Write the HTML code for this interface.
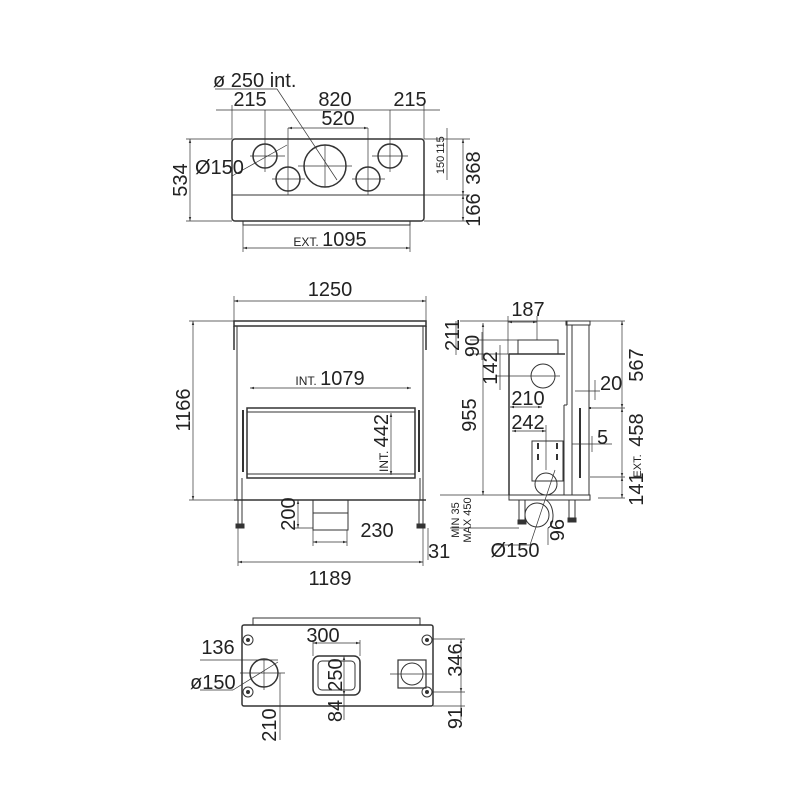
<!DOCTYPE html>
<html><head><meta charset="utf-8"><style>
html,body{margin:0;padding:0;background:#fff}
svg{display:block}
text{font-family:"Liberation Sans Narrow","Liberation Sans",sans-serif;fill:#222}
</style></head><body>
<svg width="800" height="800" viewBox="0 0 800 800" xmlns="http://www.w3.org/2000/svg">
<defs>
<marker id="a" viewBox="0 0 10 10" refX="10" refY="5" markerWidth="6" markerHeight="6" orient="auto-start-reverse"><path d="M0,2 L10,5 L0,8 z" fill="#333"/></marker>
</defs>
<g fill="none" stroke="#333" stroke-width="1">
<rect x="232" y="139" width="192" height="82" rx="3" stroke-width="1.5"/>
<line x1="232" y1="195" x2="424" y2="195"/>
<rect x="243" y="221" width="167" height="4"/>
<circle cx="265" cy="156" r="12" stroke-width="1.5"/>
<circle cx="288" cy="179" r="12" stroke-width="1.5"/>
<circle cx="325" cy="166" r="21" stroke-width="1.5"/>
<circle cx="368" cy="179" r="12" stroke-width="1.5"/>
<circle cx="390" cy="156" r="12" stroke-width="1.5"/>
<g stroke-width="0.7">
<line x1="250" y1="156" x2="285" y2="156"/><line x1="265" y1="110" x2="265" y2="172"/>
<line x1="272" y1="179" x2="305" y2="179"/><line x1="288" y1="128" x2="288" y2="195"/>
<line x1="298" y1="166" x2="352" y2="166"/><line x1="325" y1="145" x2="325" y2="187"/>
<line x1="352" y1="179" x2="385" y2="179"/><line x1="368" y1="128" x2="368" y2="195"/>
<line x1="372" y1="156" x2="408" y2="156"/><line x1="390" y1="110" x2="390" y2="172"/>
<line x1="215" y1="89" x2="277" y2="89"/><line x1="277" y1="89" x2="337" y2="180"/>
<line x1="232" y1="176" x2="287" y2="145"/>
<line x1="216" y1="110" x2="440" y2="110"/>
<line x1="232" y1="105" x2="232" y2="139"/><line x1="424" y1="105" x2="424" y2="139"/>
<line x1="288" y1="128" x2="368" y2="128" marker-start="url(#a)" marker-end="url(#a)"/>
<line x1="190" y1="139" x2="190" y2="221" marker-start="url(#a)" marker-end="url(#a)"/>
<line x1="186" y1="139" x2="232" y2="139"/><line x1="186" y1="221" x2="232" y2="221"/>
<line x1="424" y1="139" x2="470" y2="139"/><line x1="424" y1="195" x2="470" y2="195"/><line x1="424" y1="221" x2="470" y2="221"/>
<line x1="463" y1="139" x2="463" y2="195" marker-start="url(#a)" marker-end="url(#a)"/>
<line x1="463" y1="195" x2="463" y2="221" marker-start="url(#a)" marker-end="url(#a)"/>
<line x1="447" y1="128" x2="447" y2="180"/>
<line x1="243" y1="225" x2="243" y2="252"/><line x1="410" y1="225" x2="410" y2="252"/>
<line x1="243" y1="248" x2="410" y2="248" marker-start="url(#a)" marker-end="url(#a)"/>
</g>
<rect x="234" y="321" width="192" height="5" stroke-width="1.5"/>
<line x1="234" y1="326" x2="234" y2="350" stroke-width="1.5"/><line x1="426" y1="326" x2="426" y2="350" stroke-width="1.5"/>
<line x1="237" y1="326" x2="237" y2="500"/><line x1="423" y1="326" x2="423" y2="500"/>
<line x1="234" y1="500" x2="426" y2="500" stroke-width="1.5"/>
<rect x="247" y="408" width="168" height="70" stroke-width="1.5"/>
<line x1="247" y1="412" x2="415" y2="412"/><line x1="247" y1="474" x2="415" y2="474"/>
<line x1="243" y1="410" x2="243" y2="472" stroke-width="2"/><line x1="419" y1="410" x2="419" y2="472" stroke-width="2"/>
<line x1="242" y1="478" x2="242" y2="500"/><line x1="420" y1="478" x2="420" y2="500"/>
<rect x="238" y="500" width="4" height="26"/><rect x="419" y="500" width="4" height="26"/>
<rect x="236" y="524" width="8" height="4" fill="#333"/><rect x="417" y="524" width="8" height="4" fill="#333"/>
<rect x="313" y="500" width="35" height="30"/><line x1="313" y1="513" x2="348" y2="513"/>
<g stroke-width="0.7">
<line x1="234" y1="301" x2="426" y2="301" marker-start="url(#a)" marker-end="url(#a)"/>
<line x1="234" y1="296" x2="234" y2="321"/><line x1="426" y1="296" x2="426" y2="321"/>
<line x1="193" y1="321" x2="193" y2="500" marker-start="url(#a)" marker-end="url(#a)"/>
<line x1="189" y1="321" x2="234" y2="321"/><line x1="189" y1="500" x2="234" y2="500"/>
<line x1="250" y1="388" x2="411" y2="388" marker-start="url(#a)" marker-end="url(#a)"/>
<line x1="391" y1="413" x2="391" y2="475" marker-start="url(#a)" marker-end="url(#a)"/>
<line x1="298" y1="500" x2="298" y2="528" marker-start="url(#a)" marker-end="url(#a)"/>
<line x1="294" y1="528" x2="313" y2="528"/>
<line x1="313" y1="542" x2="347" y2="542" marker-start="url(#a)" marker-end="url(#a)"/>
<line x1="313" y1="530" x2="313" y2="546"/><line x1="347" y1="530" x2="347" y2="546"/>
<line x1="238" y1="528" x2="238" y2="566"/><line x1="423" y1="528" x2="423" y2="566"/>
<line x1="238" y1="562" x2="423" y2="562" marker-start="url(#a)" marker-end="url(#a)"/>
<line x1="428" y1="528" x2="428" y2="560"/>
</g>
<rect x="518" y="340" width="40" height="14"/>
<line x1="509" y1="354" x2="565" y2="354" stroke-width="1.5"/>
<line x1="509" y1="354" x2="509" y2="495" stroke-width="1.5"/>
<line x1="567" y1="321" x2="567" y2="405"/><line x1="567" y1="405" x2="564" y2="405"/><line x1="564" y1="405" x2="564" y2="495"/>
<rect x="566" y="321" width="24" height="4"/>
<line x1="572" y1="325" x2="572" y2="495"/><line x1="589" y1="325" x2="589" y2="495"/>
<line x1="580" y1="408" x2="580" y2="478" stroke-width="2"/><line x1="589" y1="408" x2="591" y2="408" stroke-width="2"/>
<rect x="509" y="495" width="81" height="5"/>
<circle cx="543" cy="376" r="12"/>
<rect x="532" y="441" width="31" height="40"/>
<g stroke-width="2"><line x1="538" y1="443" x2="538" y2="449"/><line x1="538" y1="454" x2="538" y2="460"/><line x1="557" y1="443" x2="557" y2="449"/><line x1="557" y1="454" x2="557" y2="460"/></g>
<circle cx="546" cy="484" r="11"/>
<circle cx="537" cy="515" r="12"/>
<path d="M546,500 C555,505 555,525 548,528"/>
<rect x="519" y="500" width="6" height="22"/><rect x="569" y="500" width="6" height="20"/>
<rect x="518" y="520" width="8" height="4" fill="#333"/><rect x="568" y="518" width="8" height="4" fill="#333"/>
<g stroke-width="0.7">
<line x1="508" y1="322" x2="537" y2="322" marker-start="url(#a)" marker-end="url(#a)"/>
<line x1="508" y1="316" x2="508" y2="354"/><line x1="537" y1="316" x2="537" y2="340"/>
<line x1="460" y1="321" x2="566" y2="321"/>
<line x1="456" y1="321" x2="456" y2="355"/>
<line x1="470" y1="340" x2="518" y2="340"/><line x1="470" y1="354" x2="509" y2="354"/>
<line x1="482" y1="332" x2="482" y2="360"/>
<line x1="500" y1="345" x2="500" y2="390"/><line x1="497" y1="376" x2="560" y2="376"/>
<line x1="510" y1="407" x2="542" y2="407" marker-start="url(#a)" marker-end="url(#a)"/>
<line x1="512" y1="431" x2="546" y2="431" marker-start="url(#a)" marker-end="url(#a)"/><line x1="546" y1="425" x2="546" y2="470"/>
<line x1="483" y1="323" x2="483" y2="495" marker-start="url(#a)" marker-end="url(#a)"/>
<line x1="440" y1="495" x2="509" y2="495"/>
<line x1="450" y1="528" x2="519" y2="528"/>
<line x1="590" y1="321" x2="625" y2="321"/><line x1="590" y1="408" x2="625" y2="408"/><line x1="590" y1="477" x2="625" y2="477"/><line x1="598" y1="498" x2="625" y2="498"/>
<line x1="622" y1="321" x2="622" y2="408" marker-start="url(#a)" marker-end="url(#a)"/>
<line x1="622" y1="408" x2="622" y2="477" marker-start="url(#a)" marker-end="url(#a)"/>
<line x1="622" y1="477" x2="622" y2="498" marker-start="url(#a)" marker-end="url(#a)"/>
<line x1="575" y1="391" x2="600" y2="391"/><line x1="595" y1="380" x2="595" y2="400"/>
<line x1="572" y1="444" x2="612" y2="444"/><line x1="592" y1="436" x2="592" y2="452"/>
<line x1="555" y1="470" x2="530" y2="545"/><line x1="495" y1="545" x2="530" y2="545"/>
<line x1="548" y1="528" x2="548" y2="545"/>
</g>
<rect x="242" y="625" width="191" height="81" rx="2" stroke-width="1.5"/>
<rect x="253" y="618" width="167" height="7"/>
<circle cx="264" cy="673" r="14" stroke-width="1.5"/>
<circle cx="248" cy="640" r="5"/><circle cx="248" cy="692" r="5"/><circle cx="427" cy="640" r="5"/><circle cx="427" cy="692" r="5"/>
<circle cx="248" cy="640" r="1.5" fill="#333"/><circle cx="248" cy="692" r="1.5" fill="#333"/><circle cx="427" cy="640" r="1.5" fill="#333"/><circle cx="427" cy="692" r="1.5" fill="#333"/>
<rect x="313" y="656" width="47" height="39" rx="6" stroke-width="1.5"/>
<rect x="318" y="661" width="37" height="29" rx="4"/>
<rect x="398" y="660" width="28" height="28" stroke-width="1.2"/>
<circle cx="412" cy="674" r="11"/>
<g stroke-width="0.7">
<line x1="200" y1="660" x2="278" y2="660"/>
<line x1="240" y1="673" x2="285" y2="673"/><line x1="264" y1="660" x2="264" y2="690"/>
<line x1="233" y1="690" x2="278" y2="662"/><line x1="200" y1="690" x2="233" y2="690"/>
<line x1="280" y1="673" x2="280" y2="740"/>
<line x1="313" y1="643" x2="360" y2="643" marker-start="url(#a)" marker-end="url(#a)"/>
<line x1="313" y1="640" x2="313" y2="656"/><line x1="360" y1="640" x2="360" y2="656"/>
<line x1="344" y1="656" x2="344" y2="695" marker-start="url(#a)" marker-end="url(#a)"/>
<line x1="344" y1="695" x2="344" y2="720"/><line x1="340" y1="656" x2="356" y2="656"/>
<line x1="390" y1="674" x2="432" y2="674"/>
<line x1="432" y1="639" x2="465" y2="639"/><line x1="432" y1="692" x2="465" y2="692"/><line x1="433" y1="706" x2="465" y2="706"/>
<line x1="461" y1="639" x2="461" y2="692" marker-start="url(#a)" marker-end="url(#a)"/>
<line x1="461" y1="692" x2="461" y2="720"/>
</g>
</g>
<g font-size="20">
<text x="213" y="87">ø 250 int.</text>
<g text-anchor="middle">
<text x="250" y="106">215</text><text x="335" y="106">820</text><text x="410" y="106">215</text>
<text x="338" y="125">520</text>
<text transform="translate(187,180) rotate(-90)">534</text>
<text transform="translate(480,168) rotate(-90)">368</text>
<text transform="translate(480,210) rotate(-90)">166</text>
<text font-size="11" transform="translate(444,165) rotate(-90)">150</text>
<text font-size="11" transform="translate(444,145) rotate(-90)">115</text>
<text x="330" y="246"><tspan font-size="12">EXT. </tspan>1095</text>
<text x="330" y="296">1250</text>
<text transform="translate(190,410) rotate(-90)">1166</text>
<text x="330" y="385"><tspan font-size="12">INT. </tspan>1079</text>
<text transform="translate(388,443) rotate(-90)"><tspan font-size="12">INT. </tspan>442</text>
<text transform="translate(295,514) rotate(-90)">200</text>
<text x="377" y="537">230</text>
<text x="330" y="585">1189</text>
<text x="528" y="316">187</text>
<text transform="translate(459,335) rotate(-90)">211</text>
<text transform="translate(479,346) rotate(-90)">90</text>
<text transform="translate(497,368) rotate(-90)">142</text>
<text x="528" y="405">210</text>
<text x="528" y="429">242</text>
<text transform="translate(476,415) rotate(-90)">955</text>
<text transform="translate(643,365) rotate(-90)">567</text>
<text transform="translate(643,430) rotate(-90)">458</text>
<text font-size="11" transform="translate(641,466) rotate(-90)">EXT.</text>
<text transform="translate(643,489) rotate(-90)">141</text>
<text font-size="11" transform="translate(459,520) rotate(-90)">MIN 35</text>
<text font-size="11" transform="translate(471,520) rotate(-90)">MAX 450</text>
<text x="515" y="557">Ø150</text>
<text transform="translate(550,530) rotate(90)">96</text>
<text x="218" y="654">136</text>
<text x="323" y="642">300</text>
<text transform="translate(342,675) rotate(-90)">250</text>
<text transform="translate(462,660) rotate(-90)">346</text>
<text transform="translate(462,718) rotate(-90)">91</text>
<text transform="translate(342,711) rotate(-90)">84</text>
<text transform="translate(276,725) rotate(-90)">210</text>
</g>
<text x="195" y="174">Ø150</text>
<text x="428" y="558">31</text>
<text x="600" y="390">20</text>
<text x="597" y="444">5</text>
<text x="190" y="689">ø150</text>
</g>
</svg>
</body></html>
